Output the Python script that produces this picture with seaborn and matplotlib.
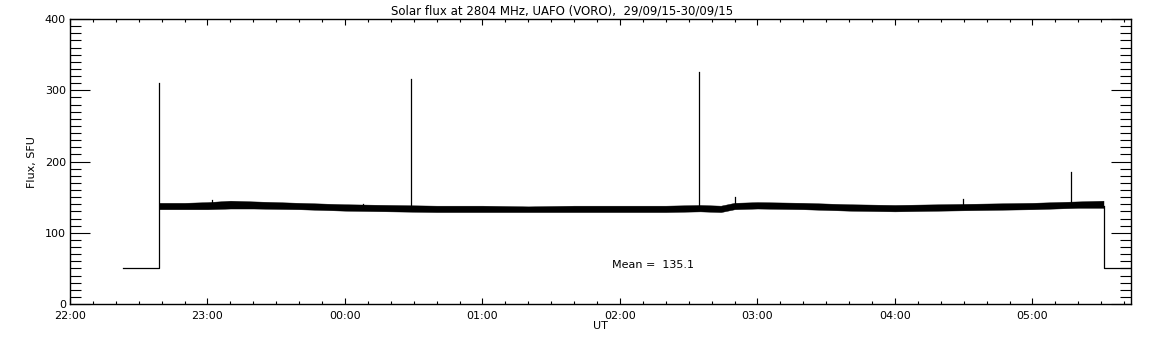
import matplotlib
matplotlib.use("Agg")
import matplotlib.pyplot as plt
from matplotlib.ticker import MultipleLocator, FixedLocator
import seaborn as sns
import pandas as pd

# ---- data (time in minutes after 22:00 UT, flux in SFU) ----
band_t  = [39, 50, 60, 70, 80, 100, 120, 140, 160, 180, 200, 220, 240, 260, 275, 284, 290, 300, 320, 340, 360, 380, 400, 420, 440, 451]
band_lo = [133, 133, 133, 134, 134, 133, 131, 130, 129, 129, 129, 129, 129, 129, 130, 129, 133, 134, 133, 131, 130, 131, 132, 133, 135, 135]
band_hi = [142, 142, 143, 145, 144, 142, 140, 139, 138, 138, 137, 138, 138, 138, 139, 138, 142, 143, 142, 140, 139, 140, 141, 142, 144, 145]

lead_t = [23, 39, 39]
lead_v = [50, 50, 310]
tail_t = [451, 451, 463]
tail_v = [138, 50, 50]

spike_t    = [149, 274.5, 290, 389.6, 437, 62, 128]
spike_base = [134, 133, 138, 136, 140, 140, 137]
spike_top  = [316, 325, 150, 147, 185, 146, 141]

mean_flux = 135.1
xtick_pos = [0, 60, 120, 180, 240, 300, 360, 420]
xtick_labels = ["22:00", "23:00", "00:00", "01:00", "02:00", "03:00", "04:00", "05:00"]
ytick_pos = [0, 100, 200, 300, 400]

# ---- build long-form trace table ----
rows = []
for t, v in zip(lead_t, lead_v):
    rows.append(("lead", t, v))
for t, v in zip(tail_t, tail_v):
    rows.append(("tail", t, v))
for i, (t, b, top) in enumerate(zip(spike_t, spike_base, spike_top)):
    rows.append((f"s{i}", t, b))
    rows.append((f"s{i}", t, top))
df = pd.DataFrame(rows, columns=["seg", "t", "flux"])

plt.rcParams["font.family"] = ["DejaVu Sans"]
fig = plt.figure(figsize=(11.52, 3.45), dpi=100)
ax = fig.add_axes([70/1152, 1 - 304/345, (1131 - 70)/1152, (304 - 19)/345])

ax.fill_between(band_t, band_lo, band_hi, color="black", lw=0.3, edgecolor="black")
sns.lineplot(data=df, x="t", y="flux", units="seg", estimator=None, sort=False,
             color="black", lw=0.9, ax=ax, legend=False)

ax.set_xlim(0, 463)
ax.set_ylim(0, 400)
ax.xaxis.set_major_locator(FixedLocator(xtick_pos))
ax.set_xticklabels(xtick_labels)
ax.xaxis.set_minor_locator(MultipleLocator(10))
ax.yaxis.set_major_locator(FixedLocator(ytick_pos))
ax.yaxis.set_minor_locator(MultipleLocator(10))
ax.set_xlabel("")
ax.set_ylabel("")

for s in ax.spines.values():
    s.set_linewidth(1.0)
    s.set_color("black")

ax.tick_params(axis="both", which="both", direction="in", top=True, right=True,
               width=0.8, colors="black", labelsize=8)
ax.tick_params(axis="y", which="major", length=14.5, pad=3)
ax.tick_params(axis="y", which="minor", length=7.7)
ax.tick_params(axis="x", which="major", length=4, pad=5)
ax.tick_params(axis="x", which="minor", length=2)

ax.text(236.5, 54.7, f"Mean =  {mean_flux}", ha="left", va="center", fontsize=8)

fig.text(562/1152, 1 - 11/345, "Solar flux at 2804 MHz, UAFO (VORO),  29/09/15-30/09/15",
         ha="center", va="center", fontsize=8.5)
fig.text(600/1152, 1 - 326/345, "UT", ha="center", va="center", fontsize=8)
fig.text(32/1152, 1 - 162/345, "Flux, SFU", ha="center", va="center", rotation=90, fontsize=8)

fig.savefig("out.png", dpi=100, facecolor="white")
